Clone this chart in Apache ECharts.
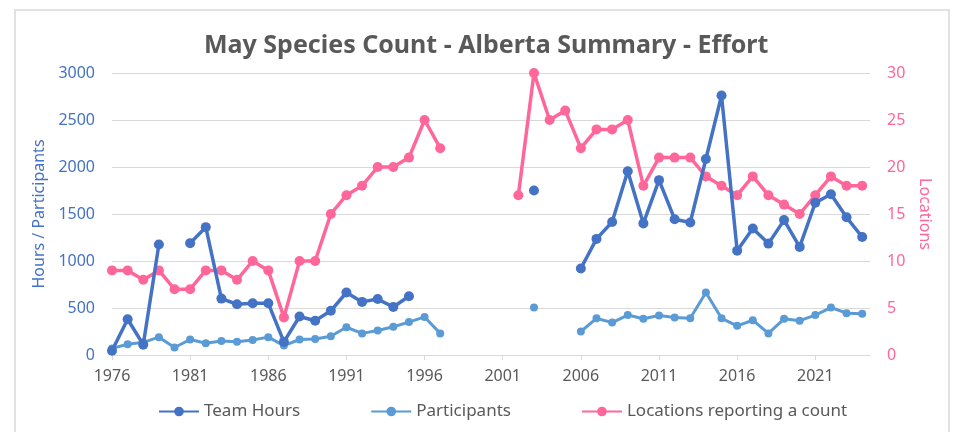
<!DOCTYPE html>
<html lang="en">

<head>
  <meta charset="UTF-8">
  <title>May Species Count - Alberta Summary - Effort</title>
  <style>
    html,
    body {
      margin: 0;
      padding: 0;
      background-color: #fff;
    }

    #chart {
      width: 962px;
      height: 432px;
    }
  </style>
</head>

<body>
  <div id="chart"></div>
  <script src="https://cdn.jsdelivr.net/npm/echarts@6/dist/echarts.min.js"></script>
  <script>
    const years = []
    for (let y = 1976; y <= 2024; y++) years.push(y)

    // 1976 .. 2024, null = no count that year
    const teamHours = [
      45, 380, 110, 1175, null, 1190, 1360, 600, 540, 550,
      550, 140, 410, 365, 470, 665, 565, 595, 510, 625,
      null, null, null, null, null, null, null, 1750, null, null,
      920, 1235, 1415, 1955, 1400, 1860, 1445, 1410, 2085, 2760,
      1110, 1345, 1185, 1435, 1150, 1620, 1710, 1465, 1255
    ]
    const participants = [
      70, 115, 135, 190, 80, 165, 125, 150, 140, 160,
      190, 100, 165, 170, 200, 295, 230, 260, 300, 350,
      405, 230, null, null, null, null, null, 505, null, null,
      250, 390, 345, 425, 385, 420, 400, 390, 665, 390,
      310, 370, 230, 385, 365, 425, 505, 445, 440
    ]
    const locations = [
      9, 9, 8, 9, 7, 7, 9, 9, 8, 10,
      9, 4, 10, 10, 15, 17, 18, 20, 20, 21,
      25, 22, null, null, null, null, 17, 30, 25, 26,
      22, 24, 24, 25, 18, 21, 21, 21, 19, 18,
      17, 19, 17, 16, 15, 17, 19, 18, 18
    ]

    const font = 'Noto Sans'
    const pair = arr => years.map((y, i) => [y, arr[i]])

    const option = {
      animation: false,
      textStyle: { fontFamily: font },
      graphic: [
        {
          type: 'rect',
          shape: { x: 15, y: 10, width: 934, height: 440 },
          style: { fill: 'none', stroke: '#d9d9d9', lineWidth: 1.5 },
          silent: true
        }
      ],
      title: {
        text: 'May Species Count - Alberta Summary - Effort',
        left: 199,
        top: 28,
        textStyle: { fontFamily: font, fontSize: 25, fontWeight: 'bold', color: '#595959' }
      },
      legend: {
        bottom: 7,
        left: 153,
        itemWidth: 40,
        itemHeight: 12,
        itemGap: 70,
        textStyle: { fontFamily: font, fontSize: 17, color: '#595959' },
        data: ['Team Hours', 'Participants', 'Locations reporting a count']
      },
      grid: { left: 112, right: 92, top: 73, bottom: 77 },
      xAxis: {
        type: 'value',
        min: 1976,
        max: 2024.5,
        interval: 5,
        splitLine: { show: false },
        axisLine: { show: true, lineStyle: { color: '#d9d9d9', width: 1 } },
        axisTick: { show: true, length: 5, lineStyle: { color: '#d9d9d9' } },
        axisLabel: {
          color: '#595959',
          fontSize: 16,
          margin: 13,
          showMaxLabel: false,
          formatter: v => String(v)
        }
      },
      yAxis: [
        {
          type: 'value',
          min: 0,
          max: 3000,
          interval: 500,
          name: 'Hours / Participants',
          nameLocation: 'middle',
          nameGap: 65,
          nameTextStyle: { color: '#4472c4', fontSize: 16 },
          axisLine: { show: false },
          axisTick: { show: false },
          axisLabel: { color: '#4472c4', fontSize: 16, margin: 17, formatter: v => String(v) },
          splitLine: { lineStyle: { color: '#d9d9d9', width: 1 } }
        },
        {
          type: 'value',
          min: 0,
          max: 30,
          interval: 5,
          name: 'Locations',
          nameLocation: 'middle',
          nameGap: 40,
          nameRotate: -90,
          nameTextStyle: { color: '#ff6699', fontSize: 16 },
          axisLine: { show: false },
          axisTick: { show: false },
          axisLabel: { color: '#ff6699', fontSize: 16, margin: 17 },
          splitLine: { show: false }
        }
      ],
      series: [
        {
          name: 'Team Hours',
          type: 'line',
          yAxisIndex: 0,
          data: pair(teamHours),
          color: '#4472c4',
          lineStyle: { width: 3.5 },
          symbol: 'circle',
          symbolSize: 10,
          showSymbol: true,
          connectNulls: false,
          z: 3
        },
        {
          name: 'Participants',
          type: 'line',
          yAxisIndex: 0,
          data: pair(participants),
          color: '#5b9bd5',
          lineStyle: { width: 3 },
          symbol: 'circle',
          symbolSize: 8,
          showSymbol: true,
          connectNulls: false,
          z: 2
        },
        {
          name: 'Locations reporting a count',
          type: 'line',
          yAxisIndex: 1,
          data: pair(locations),
          color: '#ff6699',
          lineStyle: { width: 3.5 },
          symbol: 'circle',
          symbolSize: 10,
          showSymbol: true,
          connectNulls: false,
          z: 2
        }
      ]
    }

    const myChart = echarts.init(document.getElementById('chart'))
    myChart.setOption(option)
  </script>
</body>

</html>
